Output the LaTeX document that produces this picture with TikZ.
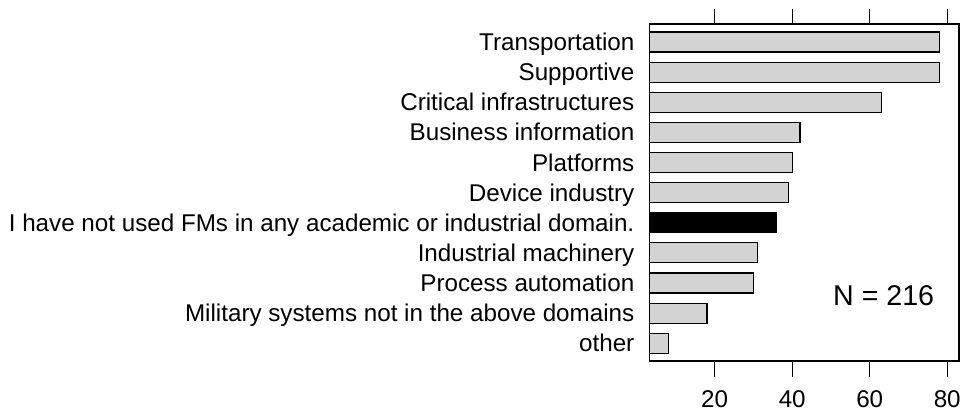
\documentclass[tikz,border=0pt]{standalone}
\usepackage{fontspec}
\setmainfont{Liberation Sans}

\begin{document}
\begin{tikzpicture}[x=1pt,y=-1pt,
   every node/.style={inner sep=0pt,font=\fontsize{24.2}{29}\selectfont},
   bar/.style={draw,line width=1.1pt,fill=barfill},
   nobar/.style={draw,line width=1.1pt,fill=black},
   frame/.style={draw,line width=1.1pt},
   tick/.style={line width=1.1pt},
   catlabel/.style={anchor=base east},
   ticklabel/.style={anchor=base}]
\definecolor{barfill}{HTML}{D3D3D3}
\useasboundingbox (0,0) rectangle (961,412);
% bars, top to bottom
\foreach \v/\t [count=\i from 0] in {78/Transportation,78/Supportive,63/Critical infrastructures,42/Business information,40/Platforms,39/Device industry,36/{I have not used FMs in any academic or industrial domain.},31/Industrial machinery,30/Process automation,18/Military systems not in the above domains,8/other}
{
  \ifnum\i=6
    \draw[nobar] (649.3,32+30.13*\i) rectangle (637.2+3.875*\v,52+30.13*\i);
  \else
    \draw[bar] (649.3,32+30.13*\i) rectangle (637.2+3.875*\v,52+30.13*\i);
  \fi
  \node[catlabel] (lbl\i) at (634.5,50.5+30.13*\i) {\t};
}
\draw[frame] (649.3,24) rectangle (959,361);
% ticks on both sides
\foreach \n in {20,40,60,80}
{
  \draw[tick] (637.2+3.875*\n,9.3) -- (637.2+3.875*\n,24);
  \draw[tick] (637.2+3.875*\n,361) -- (637.2+3.875*\n,376.7);
  \node[ticklabel] (tl\n) at (637.2+3.875*\n,407) {\n};
}
\node[anchor=base west,font=\fontsize{28.6}{34}\selectfont] (total) at (833,305) {N = 216};
\end{tikzpicture}
\end{document}
